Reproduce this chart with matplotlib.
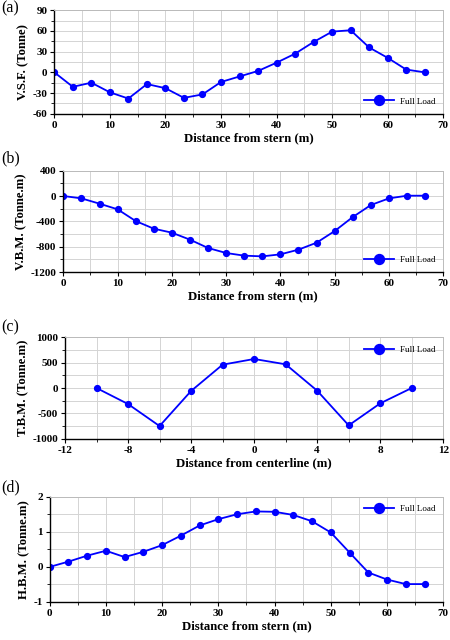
import numpy as np
import matplotlib
matplotlib.use("Agg")
import matplotlib.pyplot as plt
from matplotlib.ticker import MultipleLocator

plt.rcParams['font.family'] = ['Liberation Serif', 'DejaVu Serif']
plt.rcParams['axes.unicode_minus'] = False

# stations along the ship (m)
stations = [0, 3.33, 6.67, 10, 13.33, 16.67, 20, 23.33, 26.67, 30, 33.33,
            36.67, 40, 43.33, 46.67, 50, 53.33, 56.67, 60, 63.33, 66.67]
# transverse positions (m)
centerline = [-10, -8, -6, -4, -2, 0, 2, 4, 6, 8, 10]

vsf = [0, -21, -15, -29, -38, -17, -23, -37, -32, -14, -6,
       2, 14, 27, 44, 59, 61, 36, 21, 4, 0]
vbm = [0, -37, -121, -210, -395, -516, -579, -689, -821, -900, -942,
       -953, -921, -847, -737, -553, -332, -142, -37, 5, 5]
tbm = [0, -316, -750, -59, 460, 572, 467, -53, -737, -303, 0]
hbm = [0, 0.15, 0.32, 0.46, 0.28, 0.43, 0.62, 0.89, 1.18, 1.36, 1.50,
       1.58, 1.57, 1.48, 1.30, 0.98, 0.41, -0.16, -0.36, -0.49, -0.49]

panels = [
    # tag, x, y, xlabel, ylabel, xlim, xmaj, xmin, ylim, ymaj, ymin, rect, legend loc, tag y
    ("(a)", stations, vsf, "Distance from stern (m)", "V.S.F. (Tonne)",
     (0, 70), 10, 5, (-60, 90), 30, 15, [0.1207, 0.8223, 0.8643, 0.1617], "lower right", 0.987),
    ("(b)", stations, vbm, "Distance from stern (m)", "V.B.M. (Tonne.m)",
     (0, 70), 10, 5, (-1200, 400), 400, 200, [0.1407, 0.575, 0.8443, 0.1583], "lower right", 0.752),
    ("(c)", centerline, tbm, "Distance from centerline (m)", "T.B.M. (Tonne.m)",
     (-12, 12), 4, 2, (-1000, 1000), 500, 250, [0.1444, 0.3145, 0.8406, 0.1585], "upper right", 0.489),
    ("(d)", stations, hbm, "Distance from stern (m)", "H.B.M. (Tonne.m)",
     (0, 70), 10, 5, (-1, 2), 1, 0.5, [0.1104, 0.0594, 0.8746, 0.1645], "upper right", 0.239),
]

fig = plt.figure(figsize=(4.5, 6.4), dpi=100)

for tag, x, y, xl, yl, xlim, xmaj, xmin, ylim, ymaj, ymin, rect, loc, ty in panels:
    ax = fig.add_axes(rect)
    ax.plot(x, y, '-o', color='#0000ff', lw=1.3, ms=4.2, label='Full Load')
    ax.set_xlim(xlim)
    ax.set_ylim(ylim)
    ax.xaxis.set_major_locator(MultipleLocator(xmaj))
    ax.xaxis.set_minor_locator(MultipleLocator(xmin))
    ax.yaxis.set_major_locator(MultipleLocator(ymaj))
    ax.yaxis.set_minor_locator(MultipleLocator(ymin))
    ax.grid(True, which='both', color='#d4d4d4', lw=0.7)
    ax.set_axisbelow(True)
    ax.tick_params(which='both', direction='out', labelsize=8, pad=2)
    ax.tick_params(which='major', length=3, width=0.8)
    ax.tick_params(which='minor', length=2, width=0.6)
    for lab in ax.get_xticklabels() + ax.get_yticklabels():
        lab.set_fontweight('bold')
    for s in ['top', 'right']:
        ax.spines[s].set_color('#bbbbbb')
        ax.spines[s].set_linewidth(0.7)
    for s in ['left', 'bottom']:
        ax.spines[s].set_linewidth(1.0)
    ax.set_xlabel(xl, fontsize=9.2, fontweight='bold', labelpad=2)
    ax.set_ylabel(yl, fontsize=9.2, fontweight='bold', labelpad=2)
    ax.legend(loc=loc, frameon=False, fontsize=6.5, markerscale=1.7,
              handlelength=3.4, handletextpad=0.6)
    fig.text(0.002, ty, tag, fontsize=11.5, va='center', ha='left')

fig.savefig("out.png", dpi=100)
